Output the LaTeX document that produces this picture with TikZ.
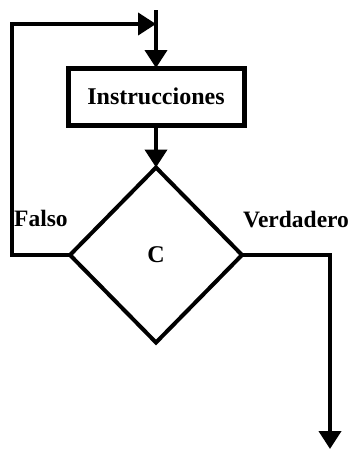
\documentclass[tikz,border=0pt]{standalone}
\usepackage{fontspec}
\setmainfont{Liberation Serif}
\usetikzlibrary{arrows.meta,shapes.geometric}
\tikzset{
  flow/.style={line width=4pt, line join=miter},
  tip/.style={-{Triangle[length=18pt,width=22pt]}},
  box/.style={draw, line width=5pt, minimum width=176pt, minimum height=57pt, inner sep=0pt, outer sep=0pt, font=\fontsize{24}{28}\selectfont\bfseries},
  dia/.style={draw, diamond, line width=4pt, minimum width=172pt, minimum height=175pt, inner sep=0pt, outer sep=0pt, font=\fontsize{24}{28}\selectfont\bfseries},
  lbl/.style={inner sep=0pt, font=\fontsize{23.5}{28}\selectfont\bfseries}
}
\begin{document}
\begin{tikzpicture}[x=1pt,y=-1pt]
\useasboundingbox (0,0) rectangle (351,450);
\coordinate (top) at (156,10);
\coordinate (join) at (156,24);
\coordinate (lt) at (12,24);
\coordinate (end) at (330,449);
\node[box] (instr) at (156,96.5) {Instrucciones};
\node[dia] (cond) at (156,255) {C};
\coordinate (lb) at (lt |- cond.west);
\coordinate (rc) at (end |- cond.east);
\draw[flow,tip] (top) -- (instr.north);
\draw[flow,tip] (instr.south) -- (cond.north);
\draw[flow,tip] (cond.west) -- (lb) -- (lt) -- (join);
\draw[flow,tip] (cond.east) -- (rc) -- (end);
\node[lbl, anchor=base west] (falso) at (14,226) {Falso};
\node[lbl, anchor=base west] (verd) at (243,227) {Verdadero};
\end{tikzpicture}
\end{document}
